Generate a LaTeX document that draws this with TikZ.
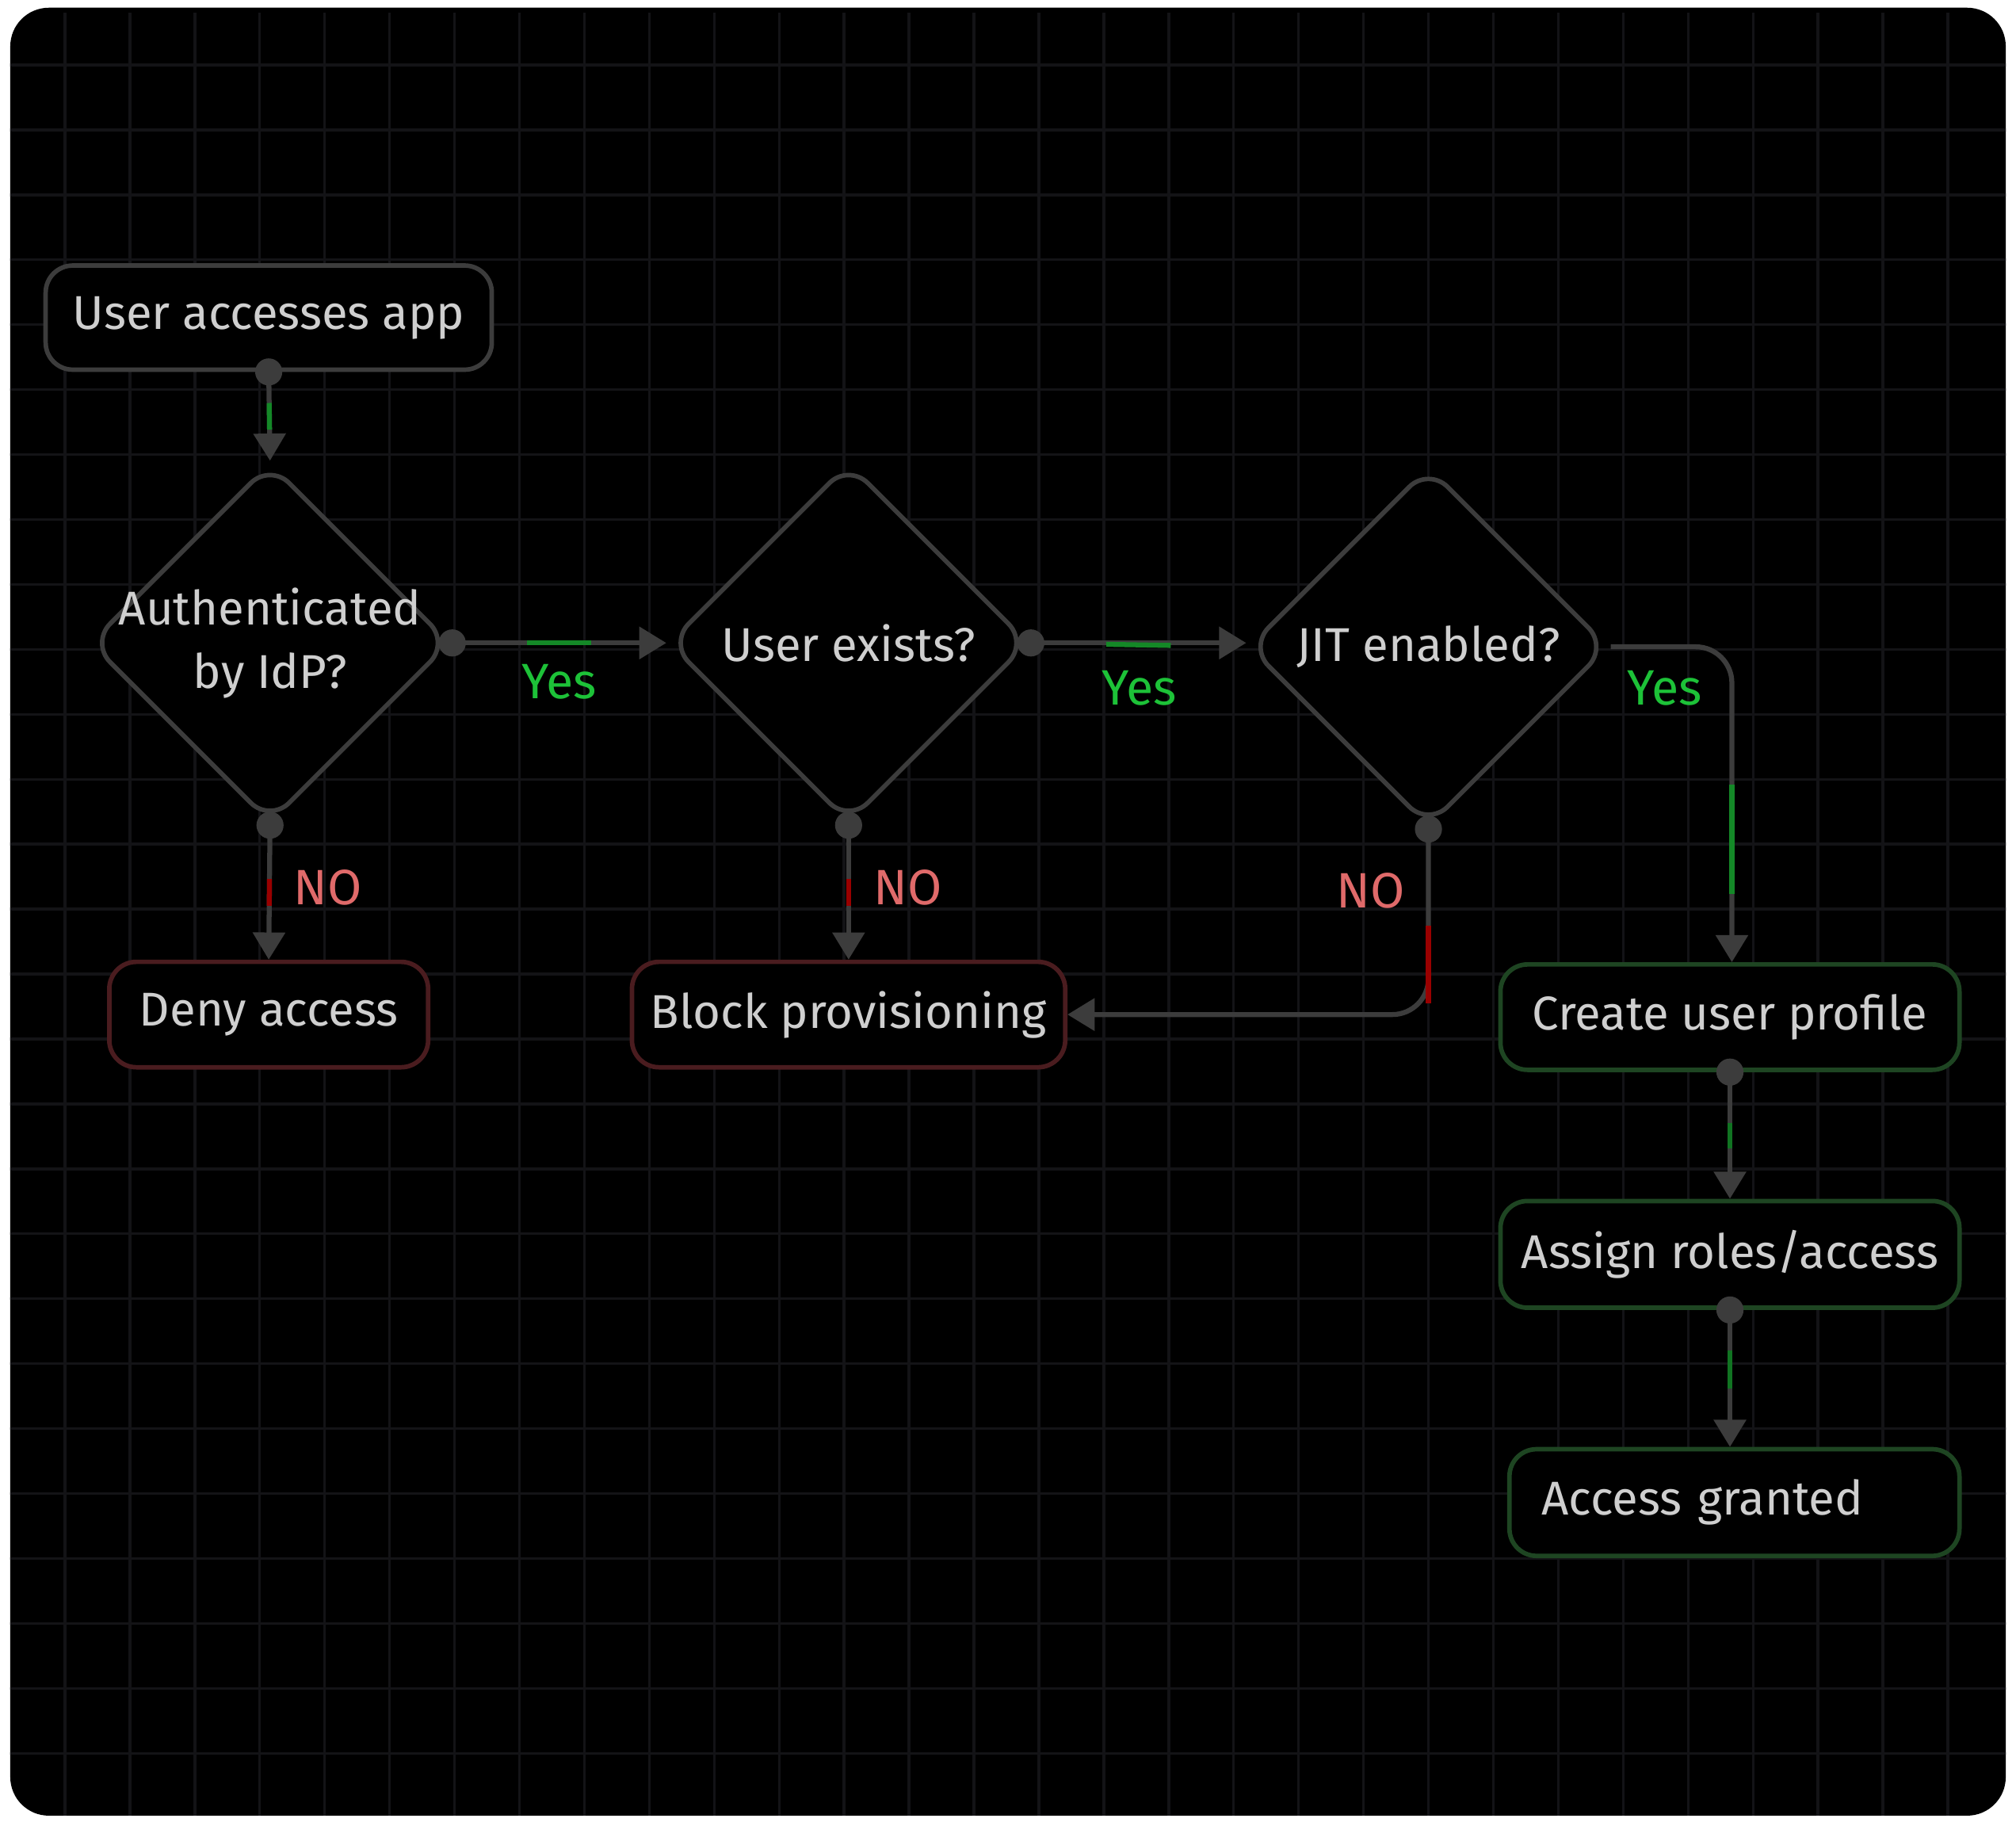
\documentclass[tikz,border=0pt]{standalone}
\usepackage{fontspec}
\setmainfont{Fira Sans}
\usetikzlibrary{shapes.geometric,calc,arrows.meta}
\definecolor{bgline}{HTML}{131316}
\definecolor{conn}{HTML}{3C3C3C}
\definecolor{txt}{HTML}{CFCFCF}
\definecolor{yescol}{HTML}{1DC238}
\definecolor{nocol}{HTML}{E06A6A}
\definecolor{redbord}{HTML}{4A1C1F}
\definecolor{grnbord}{HTML}{1E4522}

\tikzset{
  box/.style={draw=#1, line width=1pt, rounded corners=6pt, fill=black,
    text=txt, font=\fontsize{10.5}{12}\selectfont, anchor=center},
  dec/.style={draw=conn, line width=1pt, diamond, rounded corners=6pt,
    fill=black, minimum width=2.8cm, minimum height=2.8cm, inner sep=0pt},
  dectext/.style={text=txt, align=center, font=\fontsize{10.5}{14}\selectfont},
  flow/.style={draw=conn, line width=1.1pt, -{Triangle[length=6pt,width=7pt]}},
  dot/.style={circle, fill=conn, inner sep=0pt, minimum size=6pt},
  yes/.style={text=yescol, font=\fontsize{11}{13}\selectfont},
  no/.style={text=nocol, font=\fontsize{11}{13}\selectfont},
}

\begin{document}
\begin{tikzpicture}
  \useasboundingbox (0,0) rectangle (15.68,-14.2);
  \fill[white] (0,0) rectangle (15.68,-14.2);
  \fill[black, rounded corners=0.3cm] (0.08,-0.06) rectangle (15.6,-14.12);
  \begin{scope}
    \clip[rounded corners=0.3cm] (0.08,-0.06) rectangle (15.6,-14.12);
    \draw[bgline, line width=0.6pt] (0,-0.1) grid[step=0.505] (15.68,-14.2);
  \end{scope}

  % nodes
  \node[box=conn, minimum width=3.47cm, minimum height=0.81cm] (start) at (2.09,-2.47) {User accesses app};
  \node[dec, label={[dectext]center:Authenticated\\by IdP?}] (idp) at (2.10,-5.00) {};
  \node[dec, label={[dectext]center:User exists?}] (exists) at (6.60,-5.00) {};
  \node[dec, label={[dectext]center:JIT enabled?}] (jit) at (11.11,-5.03) {};
  \node[box=redbord, minimum width=2.48cm, minimum height=0.82cm] (deny) at (2.09,-7.89) {Deny access};
  \node[box=redbord, minimum width=3.37cm, minimum height=0.82cm] (block) at (6.60,-7.89) {Block provisioning};
  \node[box=grnbord, minimum width=3.57cm, minimum height=0.82cm] (create) at (13.455,-7.91) {Create user profile};
  \node[box=grnbord, minimum width=3.57cm, minimum height=0.83cm] (assign) at (13.455,-9.755) {Assign roles/access};
  \node[box=grnbord, minimum width=3.50cm, minimum height=0.83cm, text width=3.0cm] (granted) at (13.49,-11.685) {Access granted};

  % connectors
  \draw[flow] (start.south) -- (idp.north);
  \draw[flow] (idp.east) -- (exists.west);
  \draw[flow] (exists.east) -- (jit.west |- exists.east);
  \draw[flow, rounded corners=8pt] (jit.east) -| (create.north -| 13.47,0) coordinate (cj);
  \draw[flow] (idp.south) -- (deny.north);
  \draw[flow] (exists.south) -- (block.north);
  \draw[flow, rounded corners=8pt] (jit.south) |- (block.east);
  \draw[flow] (create.south) -- (assign.north);
  \draw[flow] (assign.south) -- (assign.south |- granted.north);

  % accents
  \draw[yescol!70!black, line width=1.1pt] ($(start.south)!0.35!(idp.north)$) -- ($(start.south)!0.65!(idp.north)$);
  \draw[yescol!70!black, line width=1.1pt] ($(idp.east)!0.35!(exists.west)$) -- ($(idp.east)!0.65!(exists.west)$);
  \draw[yescol!70!black, line width=1.1pt] ($(exists.east)!0.35!(jit.west)$) -- ($(exists.east)!0.65!(jit.west)$);
  \draw[yescol!70!black, line width=1.1pt] (13.47,-6.1) -- (13.47,-6.95);
  \draw[red!60!black, line width=1.1pt] ($(idp.south)!0.4!(deny.north)$) -- ($(idp.south)!0.6!(deny.north)$);
  \draw[red!60!black, line width=1.1pt] ($(exists.south)!0.4!(block.north)$) -- ($(exists.south)!0.6!(block.north)$);
  \draw[red!60!black, line width=1.1pt] (11.11,-7.2) -- (11.11,-7.8);
  \draw[yescol!60!black, line width=1.1pt] ($(create.south)!0.4!(assign.north)$) -- ($(create.south)!0.6!(assign.north)$);
  \draw[yescol!60!black, line width=1.1pt] (13.455,-10.5) -- (13.455,-10.8);

  % dots
  \foreach \p in {start.south, idp.east, exists.east, idp.south, exists.south, jit.south, create.south, assign.south}
    \node[dot] at (\p) {};

  % labels
  \node[yes] (y1) at (4.35,-5.30) {Yes};
  \node[yes] (y2) at (8.86,-5.35) {Yes};
  \node[yes] (y3) at (12.95,-5.35) {Yes};
  \node[no] (n1) at (2.55,-6.90) {NO};
  \node[no] (n2) at (7.06,-6.90) {NO};
  \node[no] (n3) at (10.66,-6.93) {NO};
\end{tikzpicture}
\end{document}
